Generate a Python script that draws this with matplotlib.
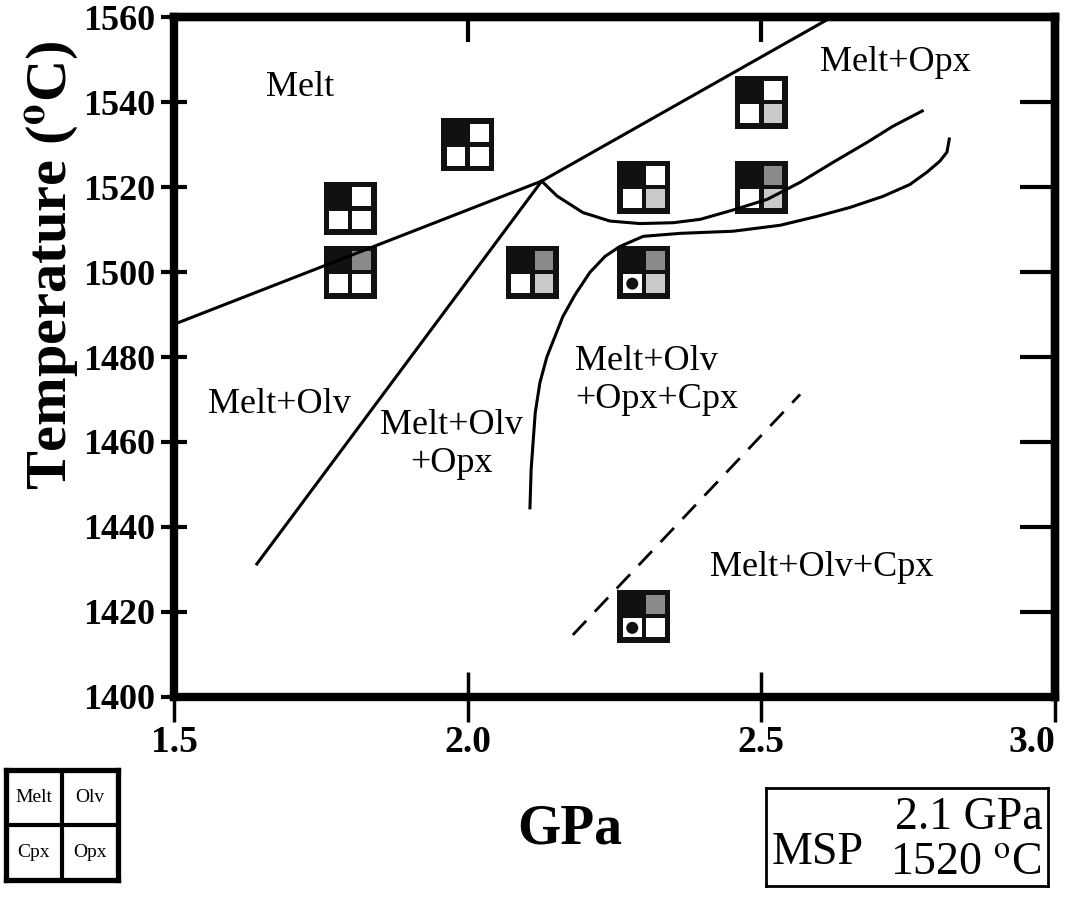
import numpy as np
import matplotlib
matplotlib.use('Agg')
import matplotlib.pyplot as plt
from matplotlib.patches import Rectangle, Circle
from matplotlib.transforms import ScaledTranslation

plt.rcParams['font.family'] = ['Liberation Serif', 'DejaVu Serif']
plt.rcParams['mathtext.fontset'] = 'stix'

# phase boundaries (P in GPa, T in C)
melt_p = [1.5, 2.126, 2.62]
melt_t = [1487.7, 1521.4, 1560.0]

olv_opx_p = [2.126, 1.641]
olv_opx_t = [1521.4, 1431.3]

opx_in_p = [2.126, 2.152, 2.196, 2.242, 2.293, 2.350, 2.396, 2.452, 2.510,
            2.566, 2.622, 2.680, 2.724, 2.774]
opx_in_t = [1521.4, 1517.9, 1514.0, 1512.0, 1511.4, 1511.6, 1512.4, 1514.6,
            1517.1, 1521.1, 1525.8, 1530.5, 1534.3, 1537.9]

cpx_in_p = [2.106, 2.108, 2.115, 2.123, 2.135, 2.162, 2.183, 2.208, 2.234,
            2.259, 2.299, 2.362, 2.452, 2.532, 2.595, 2.651, 2.707, 2.753,
            2.782, 2.804, 2.816, 2.820]
cpx_in_t = [1444.5, 1453.5, 1466.9, 1474.0, 1480.1, 1489.5, 1494.7, 1499.9,
            1503.7, 1506.0, 1508.4, 1509.1, 1509.6, 1511.0, 1513.1, 1515.2,
            1517.8, 1520.6, 1523.5, 1526.1, 1528.2, 1531.3]

dash_p = [2.179, 2.566]
dash_t = [1414.6, 1471.2]

# experiments: melt always present; olv (dark), opx (light), cpx (dot)
exp_p = [1.8, 1.8, 2.0, 2.11, 2.3, 2.3, 2.5, 2.5, 2.3]
exp_t = [1515, 1500, 1530, 1500, 1520, 1500, 1540, 1520, 1419]
has_olv = [0, 1, 0, 1, 0, 1, 0, 1, 1]
has_opx = [0, 0, 0, 1, 1, 1, 1, 1, 0]
has_cpx = [0, 0, 0, 0, 0, 1, 0, 0, 1]

fields = ['Melt', 'Melt+Opx', 'Melt+Olv', 'Melt+Olv\n+Opx', 'Melt+Olv\n+Opx+Cpx', 'Melt+Olv+Cpx']
field_p = [1.715, 2.728, 1.680, 1.972, 2.183, 2.603]
field_t = [1543.5, 1549.4, 1468.8, 1459.4, 1474.5, 1430.4]
field_ha = ['center', 'center', 'center', 'center', 'left', 'center']

xticks = [1.5, 2.0, 2.5, 3.0]
yticks = np.arange(1400, 1561, 20)

fig = plt.figure(figsize=(10.75, 8.97), dpi=100)
ax = fig.add_axes([0.1619, 0.2230, 0.8195, 0.7580])
ax.set_xlim(1.5, 3.0)
ax.set_ylim(1400, 1560)

lw = 2.2
ax.plot(melt_p, melt_t, color='k', lw=lw, zorder=3)
ax.plot(olv_opx_p, olv_opx_t, color='k', lw=lw, zorder=3)
ax.plot(opx_in_p, opx_in_t, color='k', lw=lw, zorder=3)
ax.plot(cpx_in_p, cpx_in_t, color='k', lw=lw, zorder=3)
ax.plot(dash_p, dash_t, color='k', lw=2.0, ls=(0, (7, 4.5)), zorder=3)

# 2x2 symbol, sizes in inches
box = 0.53
edge = 0.055
gap = 0.045
cell = (box - 2 * edge - gap) / 2
dark = '#8a8a8a'
light = '#cacaca'
for p, t, olv, opx, cpx in zip(exp_p, exp_t, has_olv, has_opx, has_cpx):
    tr = fig.dpi_scale_trans + ScaledTranslation(p, t, ax.transData)
    ax.add_patch(Rectangle((-box / 2, -box / 2), box, box, fc='#111111', ec='none',
                           transform=tr, zorder=2))
    x0 = -box / 2 + edge
    x1 = x0 + cell + gap
    y1 = -box / 2 + edge
    y0 = y1 + cell + gap
    ax.add_patch(Rectangle((x1, y0), cell, cell, fc=dark if olv else 'white',
                           ec='none', transform=tr, zorder=2))
    ax.add_patch(Rectangle((x0, y1), cell, cell, fc='white', ec='none',
                           transform=tr, zorder=2))
    ax.add_patch(Rectangle((x1, y1), cell, cell, fc=light if opx else 'white',
                           ec='none', transform=tr, zorder=2))
    if cpx:
        ax.add_patch(Circle((x0 + cell / 2, y1 + cell / 2), 0.06, fc='#111111',
                            ec='none', transform=tr, zorder=2))

for s, p, t, ha in zip(fields, field_p, field_t, field_ha):
    ax.text(p, t, s, fontsize=26, ha=ha, va='center', multialignment=ha,
            linespacing=1.2, zorder=4)

for sp in ax.spines.values():
    sp.set_linewidth(6)

ax.set_xticks(xticks)
ax.set_xticklabels(['%.1f' % v for v in xticks], fontsize=27, fontweight='bold')
ax.get_xticklabels()[-1].set_horizontalalignment('right')
ax.set_yticks(yticks)
ax.set_yticklabels([str(v) for v in yticks], fontsize=26, fontweight='bold')
ax.tick_params(axis='y', direction='inout', length=19, width=3, pad=4)
ax.tick_params(axis='x', direction='inout', length=36, width=2.5, pad=2)

# right and top ticks point inward only
ax_r = ax.secondary_yaxis('right')
ax_r.set_yticks(yticks[1:-1])
ax_r.set_yticklabels([])
ax_r.tick_params(direction='in', length=25, width=3)
ax_r.spines['right'].set_linewidth(6)
ax_t = ax.secondary_xaxis('top')
ax_t.set_xticks(xticks[1:-1])
ax_t.set_xticklabels([])
ax_t.tick_params(direction='in', length=18, width=3)
ax_t.spines['top'].set_linewidth(6)

fig.text(52 / 1075, 1 - 265 / 897, r'Temperature ($^{\mathbf{o}}$C)', fontsize=42,
         fontweight='bold', rotation=90, ha='center', va='center')
fig.text(0.53, 0.075, 'GPa', fontsize=40, fontweight='bold', ha='center', va='center')

# key to the symbol cells
key = fig.add_axes([6 / 1075, 1 - 880 / 897, 112 / 1075, 110 / 897])
key.set_xlim(0, 2)
key.set_ylim(0, 2)
key.set_xticks([])
key.set_yticks([])
for sp in key.spines.values():
    sp.set_linewidth(3.8)
key.axvline(1, color='k', lw=3)
key.axhline(1, color='k', lw=3)
key_names = ['Melt', 'Olv', 'Cpx', 'Opx']
key_x = [0.5, 1.5, 0.5, 1.5]
key_y = [1.5, 1.5, 0.5, 0.5]
for s, kx, ky in zip(key_names, key_x, key_y):
    key.text(kx, ky, s, fontsize=14, ha='center', va='center')

# minimum solidus point
msp = fig.add_axes([766 / 1075, 1 - 886 / 897, 282 / 1075, 98 / 897])
msp.set_xlim(0, 1)
msp.set_ylim(0, 1)
msp.set_xticks([])
msp.set_yticks([])
for sp in msp.spines.values():
    sp.set_linewidth(2)
msp.text(0.02, 0.34, 'MSP', fontsize=33, ha='left', va='center')
msp.text(0.98, 0.70, '2.1 GPa', fontsize=33, ha='right', va='center')
msp.text(0.98, 0.24, r'1520 $^{\rm o}$C', fontsize=33, ha='right', va='center')

fig.savefig('out.png', dpi=100, facecolor='white')
